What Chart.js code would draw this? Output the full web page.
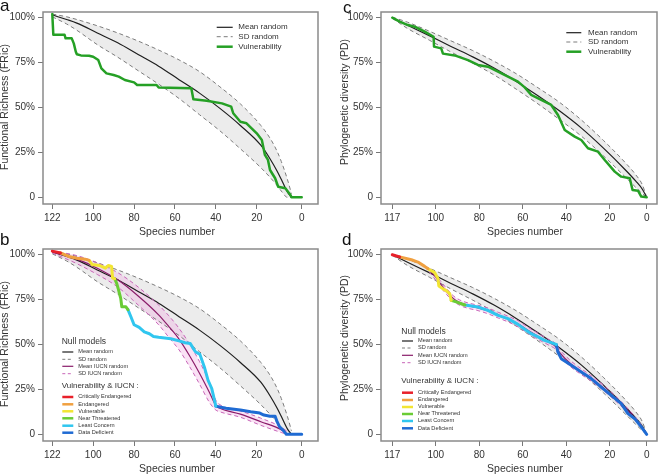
<!DOCTYPE html>
<html>
<head>
<meta charset="utf-8">
<script src="https://cdn.jsdelivr.net/npm/chart.js@4.4.0/dist/chart.umd.min.js"></script>
<style>
  html, body { margin: 0; padding: 0; background: #fff; }
  #wrap { position: relative; width: 658px; height: 474px; overflow: hidden;
          font-family: "Liberation Sans", Arial, sans-serif; color: #333; }
  canvas { position: absolute; }
  .t { position: absolute; white-space: nowrap; line-height: 1; }
  svg { position: absolute; left: 0; top: 0; }
</style>
</head>
<body>
<div id="wrap">
  <canvas id="ca" width="329" height="237" style="left:0;top:0"></canvas>
  <canvas id="cc" width="329" height="237" style="left:329px;top:0"></canvas>
  <canvas id="cb" width="329" height="237" style="left:0;top:237px"></canvas>
  <canvas id="cd" width="329" height="237" style="left:329px;top:237px"></canvas>
  <svg id="leg" width="658" height="474"></svg>
</div>
<script>
// ---- axes ----
const yTickVals = [0, 0.25, 0.5, 0.75, 1];
const yTickLabels = ['0', '25%', '50%', '75%', '100%'];
// tick marks sit on removal steps 0,20,..,100,N in the original, labels read reversed
const xTickPosA = [122, 102, 82, 62, 42, 22, 0];
const xTickLabelsA = ['122', '100', '80', '60', '40', '20', '0'];
const xTickPosC = [117, 97, 77, 57, 37, 17, 0];
const xTickLabelsC = ['117', '100', '80', '60', '40', '20', '0'];

// ---- FRic null model (panels a, b) ----
const sNullA = [122, 115, 110, 100, 90, 80, 70, 60, 50, 40, 30, 20, 15, 12, 10, 7, 5];
const meanA  = [1.015, 0.99, 0.97, 0.915, 0.86, 0.795, 0.73, 0.655, 0.58, 0.495, 0.40, 0.29, 0.205, 0.145, 0.10, 0.03, 0.0];
const upperA = [1.02, 1.005, 0.99, 0.955, 0.915, 0.87, 0.82, 0.765, 0.70, 0.615, 0.52, 0.40, 0.32, 0.255, 0.20, 0.10, 0.02];
const lowerA = [1.005, 0.965, 0.93, 0.85, 0.78, 0.705, 0.63, 0.55, 0.46, 0.37, 0.27, 0.165, 0.105, 0.065, 0.035, 0.0, 0.0];

// vulnerability removal order, FRic (panel a)
const vulnAs = [122, 121.5, 116, 115.5, 112.5, 111.5, 110.5, 110, 108, 104, 102, 99.5, 98, 95.5, 92, 89.5, 86.5, 82, 80.5, 71, 70, 54, 53, 46.5, 39, 34.5, 33.5, 30, 27, 24.5, 22, 19.5, 18, 16.5, 15.5, 13, 11.5, 8, 5.5, 5, 0];
const vulnAv = [1.02, 0.905, 0.905, 0.885, 0.885, 0.857, 0.81, 0.796, 0.79, 0.788, 0.783, 0.764, 0.718, 0.69, 0.681, 0.672, 0.653, 0.64, 0.625, 0.625, 0.612, 0.607, 0.546, 0.538, 0.523, 0.505, 0.468, 0.421, 0.412, 0.384, 0.356, 0.319, 0.236, 0.208, 0.152, 0.106, 0.059, 0.05, 0.013, 0, 0];

// IUCN null model, FRic (panel b)
const sIucnB     = [122, 110, 100, 90, 80, 70, 65, 60, 55, 50, 45, 42, 40, 30, 20, 10, 7];
const meanIucnB  = [1.015, 0.975, 0.925, 0.86, 0.77, 0.665, 0.60, 0.53, 0.44, 0.34, 0.23, 0.16, 0.145, 0.112, 0.07, 0.025, 0.0];
const upperIucnB = [1.02, 0.995, 0.955, 0.90, 0.82, 0.72, 0.66, 0.59, 0.505, 0.405, 0.285, 0.19, 0.165, 0.13, 0.09, 0.04, 0.015];
const lowerIucnB = [1.01, 0.95, 0.89, 0.82, 0.72, 0.61, 0.54, 0.47, 0.38, 0.28, 0.175, 0.135, 0.125, 0.095, 0.05, 0.01, 0.0];

// vulnerability & IUCN categories, FRic (panel b)
const crBs = [122, 118], crBv = [1.02, 1.01];
const enBs = [118, 114, 110, 106, 104], enBv = [1.01, 0.99, 0.98, 0.975, 0.968];
const vuBs = [104, 102.5, 99, 96, 94.5, 93, 92.5, 91.5], vuBv = [0.968, 0.945, 0.94, 0.925, 0.94, 0.935, 0.87, 0.866];
const ntBs = [91.5, 90.5, 89.5, 88.5, 88, 86, 85], ntBv = [0.866, 0.84, 0.80, 0.755, 0.71, 0.71, 0.694];
const lcBs = [85, 83.5, 82, 79.5, 77, 74.5, 72.5, 70, 64, 60, 57, 54.5, 52, 49.8, 47.5, 45.8, 44, 42];
const lcBv = [0.694, 0.653, 0.61, 0.595, 0.57, 0.56, 0.545, 0.54, 0.532, 0.52, 0.51, 0.505, 0.46, 0.445, 0.37, 0.30, 0.255, 0.157];
const ddBs = [42, 37, 30, 25, 20.5, 18.5, 15.5, 13, 12, 10.8, 9, 7.5, 0];
const ddBv = [0.157, 0.145, 0.135, 0.125, 0.118, 0.107, 0.10, 0.10, 0.069, 0.041, 0.022, 0.0, 0.0];

// ---- PD null model (panels c, d) ----
const sNullC = [117, 110, 100, 90, 80, 70, 60, 50, 40, 30, 20, 10, 5, 2, 0];
const meanC  = [1.0, 0.958, 0.90, 0.84, 0.782, 0.718, 0.645, 0.565, 0.48, 0.385, 0.275, 0.155, 0.09, 0.045, 0];
const upperC = [1.003, 0.975, 0.925, 0.871, 0.817, 0.756, 0.688, 0.61, 0.528, 0.43, 0.318, 0.195, 0.125, 0.07, 0];
const lowerC = [0.997, 0.94, 0.875, 0.809, 0.747, 0.68, 0.602, 0.52, 0.432, 0.34, 0.232, 0.115, 0.055, 0.02, 0];

// vulnerability removal order, PD (panel c)
const vulnCs = [117, 113.6, 109.8, 106.7, 102.1, 98, 97.8, 94.5, 93.7, 88.3, 82.2, 77.6, 73, 68.4, 63.8, 59.2, 56.1, 53.1, 48.5, 43.9, 40.8, 37.7, 33.1, 30.1, 27, 22.4, 19.3, 14.7, 11.7, 7.8, 6.5, 4, 2.5, 0];
const vulnCv = [1.0, 0.978, 0.959, 0.95, 0.922, 0.894, 0.839, 0.829, 0.80, 0.79, 0.764, 0.737, 0.727, 0.70, 0.672, 0.644, 0.612, 0.57, 0.542, 0.514, 0.458, 0.375, 0.338, 0.319, 0.273, 0.254, 0.208, 0.143, 0.115, 0.106, 0.041, 0.037, 0.004, 0];

// IUCN null model, PD (panel d)
const sIucnD     = [100, 97, 95, 92, 89, 86, 82, 78, 73, 68, 64, 59, 55, 50, 45, 42, 40, 35, 30, 25, 20, 15, 10, 5, 2, 0];
const meanIucnD  = [0.915, 0.875, 0.84, 0.795, 0.757, 0.733, 0.716, 0.705, 0.687, 0.662, 0.643, 0.614, 0.582, 0.546, 0.512, 0.49, 0.455, 0.393, 0.348, 0.307, 0.26, 0.207, 0.148, 0.083, 0.037, 0];
const upperIucnD = [0.925, 0.892, 0.857, 0.812, 0.772, 0.748, 0.731, 0.72, 0.703, 0.678, 0.659, 0.631, 0.599, 0.563, 0.528, 0.506, 0.472, 0.41, 0.364, 0.322, 0.275, 0.221, 0.16, 0.093, 0.043, 0];
const lowerIucnD = [0.905, 0.858, 0.823, 0.778, 0.742, 0.718, 0.701, 0.69, 0.671, 0.646, 0.627, 0.597, 0.565, 0.529, 0.496, 0.474, 0.438, 0.376, 0.332, 0.292, 0.245, 0.193, 0.136, 0.073, 0.031, 0];

// vulnerability & IUCN categories, PD (panel d)
const crDs = [117, 113.6], crDv = [1.0, 0.988];
const enDs = [113.6, 108.2, 105.2, 102.1, 100.6], enDv = [0.988, 0.972, 0.959, 0.935, 0.922];
const vuDs = [100.6, 97.5, 96, 95.6, 93.7, 92.2, 90.6, 89.9], vuDv = [0.922, 0.9, 0.868, 0.826, 0.81, 0.80, 0.783, 0.746];
const ntDs = [89.9, 87.6, 85.3, 83.6], ntDv = [0.746, 0.737, 0.727, 0.72];
const lcDs = [83.6, 77.6, 73, 68.4, 63.8, 59.2, 56.1, 53.1, 50, 47, 43.9, 41.6];
const lcDv = [0.72, 0.709, 0.69, 0.662, 0.644, 0.612, 0.585, 0.56, 0.542, 0.523, 0.51, 0.5];
const ddDs = [41.6, 40.8, 39.3, 34.7, 30.1, 25.5, 20.9, 16.3, 11.7, 8.6, 5.5, 2.5, 0];
const ddDv = [0.5, 0.458, 0.421, 0.384, 0.347, 0.31, 0.263, 0.217, 0.171, 0.115, 0.087, 0.041, 0];

// ---- styles ----
const FONT = '"Liberation Sans", Arial, sans-serif';
const GREY_FILL = '#ececec', GREY_DASH = '#7c7c7c', BLACK = '#1e1e1e';
const GREEN = '#25a025', PURPLE = '#8a1c6a', PINK = '#c865b8', PINK_FILL = 'rgba(238,160,222,0.30)';
const IUCN = { CR: '#e8202a', EN: '#f0a040', VU: '#f2e533', NT: '#6acc35', LC: '#30c6ef', DD: '#1f6bd3' };

const pts = (xs, ys) => xs.map((x, i) => ({ x, y: ys[i] }));

function curve(xs, ys, color, width, extra) {
  return Object.assign({ data: pts(xs, ys), borderColor: color, borderWidth: width,
    pointRadius: 0, fill: false, cubicInterpolationMode: 'monotone' }, extra || {});
}
function step(xs, ys, color, width, extra) {
  return Object.assign({ data: pts(xs, ys), borderColor: color, borderWidth: width,
    pointRadius: 0, fill: false, tension: 0, borderJoinStyle: 'round', borderCapStyle: 'round' }, extra || {});
}

// grey frame round the plotting region, R style
const boxPlugin = {
  id: 'box',
  afterDraw(chart) {
    const { ctx, chartArea: a } = chart;
    ctx.save();
    ctx.strokeStyle = '#8a8a8a';
    ctx.lineWidth = 1.5;
    ctx.strokeRect(a.left, a.top, a.right - a.left, a.bottom - a.top);
    ctx.restore();
  }
};

function makeChart(id, datasets, xr, tickPos, tickLabels, yWidth, rightPad) {
  const tickFont = { size: 10, family: FONT };
  const grid = { drawOnChartArea: false, drawTicks: true, tickLength: 5, color: '#777' };
  return new Chart(document.getElementById(id), {
    type: 'line',
    data: { datasets },
    plugins: [boxPlugin],
    options: {
      responsive: false, animation: false, devicePixelRatio: 1,
      layout: { padding: { left: 0, top: 12, right: rightPad, bottom: 0 } },
      plugins: { legend: { display: false }, tooltip: { enabled: false },
                 filler: { drawTime: 'beforeDatasetsDraw' } },
      scales: {
        x: { type: 'linear', reverse: true, min: xr[0], max: xr[1],
             afterBuildTicks: s => { s.ticks = tickPos.map(v => ({ value: v })); },
             afterFit: s => { s.height = 33; },
             ticks: { autoSkip: false, maxRotation: 0, color: '#333', font: tickFont, padding: 3,
                      callback: (v, i) => tickLabels[i] },
             grid, border: { display: false } },
        y: { type: 'linear', min: -0.0373, max: 1.0317,
             afterBuildTicks: s => { s.ticks = yTickVals.map(v => ({ value: v })); },
             afterFit: s => { s.width = yWidth; },
             ticks: { color: '#333', font: tickFont, padding: 3, callback: (v, i) => yTickLabels[i] },
             grid, border: { display: false } }
      }
    }
  });
}

// dataset order: lower "order" is painted on top
const dash = [4, 3];
const dsA = [
  step(vulnAs, vulnAv, GREEN, 2.5, { order: 0 }),
  curve(sNullA, meanA, BLACK, 1.2, { order: 1 }),
  curve(sNullA, upperA, GREY_DASH, 1, { order: 2, borderDash: dash }),
  curve(sNullA, lowerA, GREY_DASH, 1, { order: 2, borderDash: dash, fill: { target: 2 }, backgroundColor: GREY_FILL })
];
const dsB = [
  step(crBs, crBv, IUCN.CR, 3, { order: 0 }),
  step(enBs, enBv, IUCN.EN, 3, { order: 0 }),
  step(vuBs, vuBv, IUCN.VU, 3, { order: 0 }),
  step(ntBs, ntBv, IUCN.NT, 3, { order: 0 }),
  step(lcBs, lcBv, IUCN.LC, 3, { order: 0 }),
  step(ddBs, ddBv, IUCN.DD, 3, { order: 0 }),
  curve(sIucnB, meanIucnB, PURPLE, 1.2, { order: 1 }),
  curve(sIucnB, upperIucnB, PINK, 1, { order: 2, borderDash: dash }),
  curve(sIucnB, lowerIucnB, PINK, 1, { order: 2, borderDash: dash, fill: { target: 7 }, backgroundColor: PINK_FILL }),
  curve(sNullA, meanA, BLACK, 1.2, { order: 3 }),
  curve(sNullA, upperA, GREY_DASH, 1, { order: 4, borderDash: dash }),
  curve(sNullA, lowerA, GREY_DASH, 1, { order: 4, borderDash: dash, fill: { target: 10 }, backgroundColor: GREY_FILL })
];
const dsC = [
  step(vulnCs, vulnCv, GREEN, 2.5, { order: 0 }),
  curve(sNullC, meanC, BLACK, 1.2, { order: 1 }),
  curve(sNullC, upperC, GREY_DASH, 1, { order: 2, borderDash: dash }),
  curve(sNullC, lowerC, GREY_DASH, 1, { order: 2, borderDash: dash, fill: { target: 2 }, backgroundColor: GREY_FILL })
];
const dsD = [
  step(crDs, crDv, IUCN.CR, 3, { order: 0 }),
  step(enDs, enDv, IUCN.EN, 3, { order: 0 }),
  step(vuDs, vuDv, IUCN.VU, 3, { order: 0 }),
  step(ntDs, ntDv, IUCN.NT, 3, { order: 0 }),
  step(lcDs, lcDv, IUCN.LC, 3, { order: 0 }),
  step(ddDs, ddDv, IUCN.DD, 3, { order: 0 }),
  curve(sIucnD, meanIucnD, PURPLE, 1.2, { order: 1 }),
  curve(sIucnD, upperIucnD, PINK, 1, { order: 2, borderDash: dash }),
  curve(sIucnD, lowerIucnD, PINK, 1, { order: 2, borderDash: dash, fill: { target: 7 }, backgroundColor: PINK_FILL }),
  curve(sNullC, meanC, BLACK, 1.2, { order: 3 }),
  curve(sNullC, upperC, GREY_DASH, 1, { order: 4, borderDash: dash }),
  curve(sNullC, lowerC, GREY_DASH, 1, { order: 4, borderDash: dash, fill: { target: 10 }, backgroundColor: GREY_FILL })
];

makeChart('ca', dsA, [-7.97, 126.55], xTickPosA, xTickLabelsA, 43, 11);
makeChart('cb', dsB, [-7.97, 126.55], xTickPosA, xTickLabelsA, 43, 11);
makeChart('cc', dsC, [-4.74, 122.19], xTickPosC, xTickLabelsC, 52, 1);
makeChart('cd', dsD, [-4.74, 122.19], xTickPosC, xTickLabelsC, 52, 1);

// ---- text & legends (HTML overlay) ----
const wrap = document.getElementById('wrap');
const svg = document.getElementById('leg');

function addText(txt, x, y, size, opts) {
  opts = opts || {};
  const d = document.createElement('div');
  d.className = 't';
  d.textContent = txt;
  d.style.fontSize = size + 'px';
  if (opts.rotate) {
    d.style.left = x + 'px';
    d.style.top = y + 'px';
    d.style.transform = 'translate(-50%,-50%) rotate(-90deg)';
  } else if (opts.center) {
    d.style.left = x + 'px';
    d.style.top = (y - 0.49 * size) + 'px';
    d.style.transform = 'translateX(-50%)';
  } else {
    d.style.left = x + 'px';
    d.style.top = (y - 0.49 * size) + 'px';
  }
  if (opts.color) d.style.color = opts.color;
  wrap.appendChild(d);
}

function addLine(x1, x2, y, color, width, dashArr) {
  const l = document.createElementNS('http://www.w3.org/2000/svg', 'line');
  l.setAttribute('x1', x1); l.setAttribute('x2', x2);
  l.setAttribute('y1', y); l.setAttribute('y2', y);
  l.setAttribute('stroke', color); l.setAttribute('stroke-width', width);
  if (dashArr) l.setAttribute('stroke-dasharray', dashArr);
  svg.appendChild(l);
}

// panel letters
addText('a', 0, 5.5, 17, { color: '#111' });
addText('b', 0, 239, 17, { color: '#111' });
addText('c', 343, 7, 17, { color: '#111' });
addText('d', 342, 239, 17, { color: '#111' });

// axis titles
addText('Functional Richness (FRic)', 4, 106.5, 10.5, { rotate: true });
addText('Functional Richness (FRic)', 4, 343.5, 10.5, { rotate: true });
addText('Phylogenetic diversity (PD)', 343.6, 101.5, 10.5, { rotate: true });
addText('Phylogenetic diversity (PD)', 343.6, 338, 10.5, { rotate: true });
addText('Species number', 177, 231, 10.5, { center: true });
addText('Species number', 177, 468, 10.5, { center: true });
addText('Species number', 525, 231, 10.5, { center: true });
addText('Species number', 525, 468, 10.5, { center: true });

// simple legends (a, c)
function simpleLegend(x1, x2, tx, ys) {
  addLine(x1, x2, ys[0], BLACK, 1.2);
  addText('Mean random', tx, ys[0], 8);
  addLine(x1, x2, ys[1], GREY_DASH, 1, '4 3');
  addText('SD random', tx, ys[1], 8);
  addLine(x1, x2, ys[2], GREEN, 2.5);
  addText('Vulnerability', tx, ys[2], 8);
}
simpleLegend(216.7, 232.7, 238.3, [27.3, 36.7, 46.7]);
simpleLegend(566.3, 581.3, 588, [32.7, 42, 51.7]);

// IUCN legends (b, d)
const nullNames = ['Mean random', 'SD random', 'Mean IUCN random', 'SD IUCN random'];
const nullStyles = [[BLACK, 1.2, null], [GREY_DASH, 1, '3 2.5'], [PURPLE, 1.2, null], [PINK, 1, '3 2.5']];
const iucnNames = ['Critically Endangered', 'Endangered', 'Vulnerable', 'Near Threatened', 'Least Concern', 'Data Deficient'];
const iucnColors = [IUCN.CR, IUCN.EN, IUCN.VU, IUCN.NT, IUCN.LC, IUCN.DD];

function iucnLegend(hx, x1, x2, tx, yHead1, ysNull, yHead2, ysIucn) {
  addText('Null models', hx, yHead1, 8.5);
  ysNull.forEach((y, i) => {
    addLine(x1, x2, y, nullStyles[i][0], nullStyles[i][1], nullStyles[i][2]);
    addText(nullNames[i], tx, y, 5.6);
  });
  addText('Vulnerability & IUCN :', hx, yHead2, 8);
  ysIucn.forEach((y, i) => {
    addLine(x1, x2, y, iucnColors[i], 2.5);
    addText(iucnNames[i], tx, y, 5.6);
  });
}
iucnLegend(61.7, 62.3, 73.3, 78.3, 341, [352, 359.3, 366.3, 373.7], 386, [397, 404.3, 411.3, 418.3, 425.7, 432.7]);
iucnLegend(401.3, 402, 413, 418, 331, [341, 348, 355.3, 362.7], 381, [392.7, 400, 407, 414, 421, 428.3]);
</script>
</body>
</html>
